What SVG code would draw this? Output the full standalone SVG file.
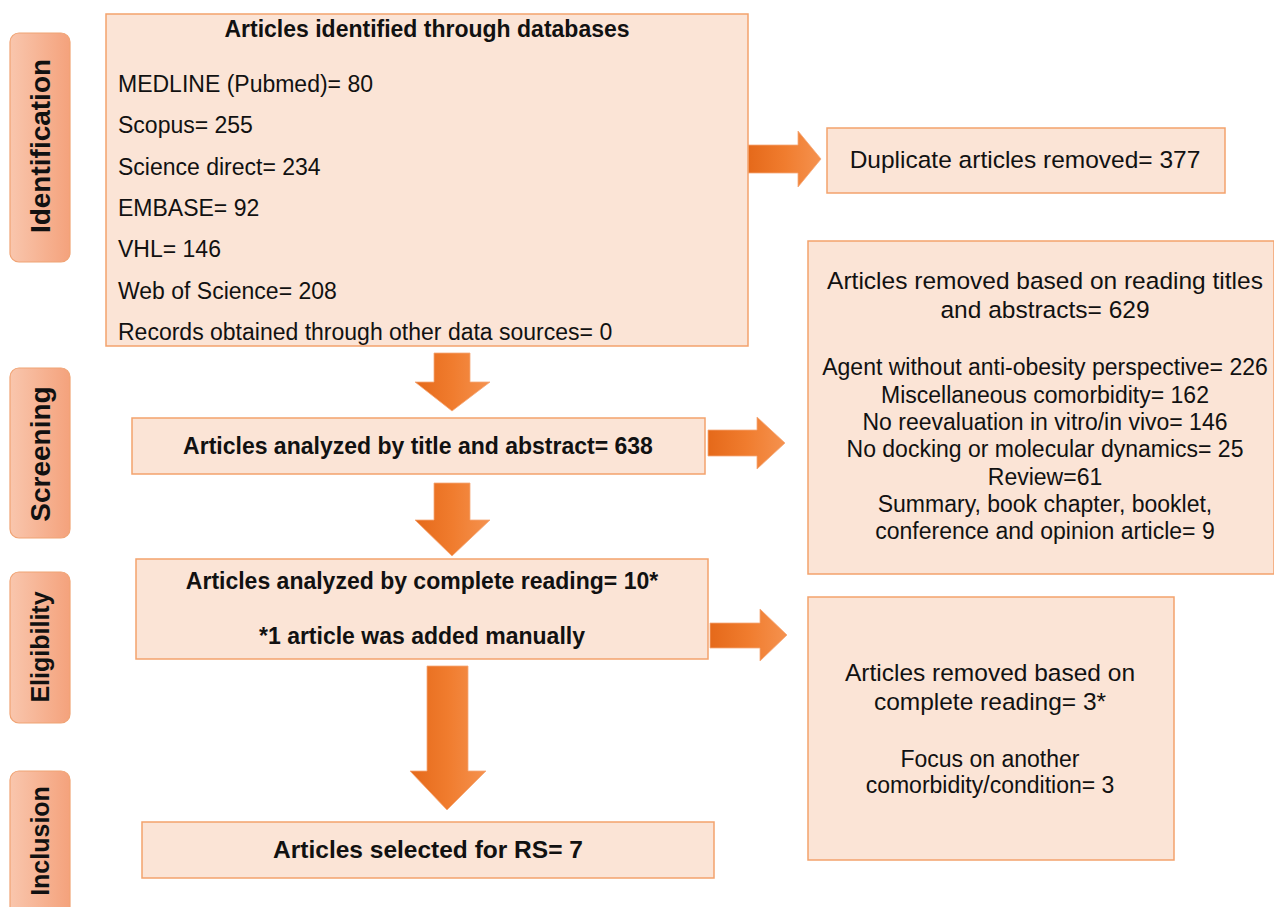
<svg xmlns="http://www.w3.org/2000/svg" width="1274" height="907" viewBox="0 0 1274 907">
<defs>
<linearGradient id="arrowGrad" x1="0" y1="0" x2="1" y2="0">
<stop offset="0" stop-color="#E5691A"/>
<stop offset="0.5" stop-color="#F07C2E"/>
<stop offset="1" stop-color="#F5924F"/>
</linearGradient>
<linearGradient id="labelGrad" x1="0" y1="0" x2="1" y2="0">
<stop offset="0" stop-color="#F9C6AD"/>
<stop offset="1" stop-color="#F4A27C"/>
</linearGradient>
<style>
.box{fill:#FBE4D6;stroke:#F3A26C;stroke-width:1.5}
.lab{fill:url(#labelGrad);stroke:#F0A374;stroke-width:1.2}
.arr{fill:url(#arrowGrad);stroke:#F5A878;stroke-width:0.8}
text{font-family:"Liberation Sans",Arial,sans-serif;fill:#111}
.b{font-weight:bold}
.lt{font-weight:bold;font-size:25px}
.lt28{font-size:28px}
.t23{font-size:23px}
.t245{font-size:24.5px}
.c{text-anchor:middle}
</style>
</defs>
<rect width="1274" height="907" fill="#fff"/>

<g id="label-identification">
<rect class="lab" x="10" y="33" width="60" height="229" rx="9"/>
<text class="lt lt28 c" transform="translate(40,146) rotate(-90)" dominant-baseline="central">Identification</text>
</g>
<g id="label-screening">
<rect class="lab" x="10" y="368" width="60" height="170" rx="9"/>
<text class="lt lt28 c" transform="translate(40,454) rotate(-90)" dominant-baseline="central">Screening</text>
</g>
<g id="label-eligibility">
<rect class="lab" x="10" y="572" width="60" height="151" rx="9"/>
<text class="lt c" transform="translate(40,647) rotate(-90)" dominant-baseline="central">Eligibility</text>
</g>
<g id="label-inclusion">
<rect class="lab" x="10" y="771" width="60" height="150" rx="9"/>
<text class="lt c" transform="translate(40,841) rotate(-90)" dominant-baseline="central">Inclusion</text>
</g>

<g id="connectors">
<path class="arr" d="M748,145 H798 V131 L821,159 L798,187 V173 H748 Z"/>
<path class="arr" d="M434,353 H470 V382 H490 L452,411 L415,382 H434 Z"/>
<path class="arr" d="M708,430 H757 V417 L785,443 L757,469 V456 H708 Z"/>
<path class="arr" d="M434,483 H470 V520 H490 L452,556 L415,520 H434 Z"/>
<path class="arr" d="M710,623 H760 V609 L787,635 L760,661 V648 H710 Z"/>
<path class="arr" d="M427,666 H468 V771 H486 L447,810 L410,771 H427 Z"/>
</g>

<g id="node-databases">
<rect class="box" x="106" y="14" width="642" height="332"/>
<text class="b t23 c" x="427" y="37">Articles identified through databases</text>
<text class="t23" x="118" y="92">MEDLINE (Pubmed)= 80</text>
<text class="t23" x="118" y="133">Scopus= 255</text>
<text class="t23" x="118" y="175">Science direct= 234</text>
<text class="t23" x="118" y="216">EMBASE= 92</text>
<text class="t23" x="118" y="257">VHL= 146</text>
<text class="t23" x="118" y="299">Web of Science= 208</text>
<text class="t23" x="118" y="340">Records obtained through other data sources= 0</text>
</g>

<g id="node-duplicates">
<rect class="box" x="827" y="128" width="398" height="65"/>
<text class="t245 c" x="1025" y="168">Duplicate articles removed= 377</text>
</g>

<g id="node-screening">
<rect class="box" x="132" y="418" width="573" height="56"/>
<text class="b t23 c" x="418" y="454">Articles analyzed by title and abstract= 638</text>
</g>

<g id="node-removed-titles">
<rect class="box" x="808" y="241" width="466" height="333"/>
<text class="t245 c" x="1045" y="289">Articles removed based on reading titles</text>
<text class="t245 c" x="1045" y="318">and abstracts= 629</text>
<text class="t23 c" x="1045" y="375">Agent without anti-obesity perspective= 226</text>
<text class="t23 c" x="1045" y="403">Miscellaneous comorbidity= 162</text>
<text class="t23 c" x="1045" y="430">No reevaluation in vitro/in vivo= 146</text>
<text class="t23 c" x="1045" y="457">No docking or molecular dynamics= 25</text>
<text class="t23 c" x="1045" y="485">Review=61</text>
<text class="t23 c" x="1045" y="512">Summary, book chapter, booklet,</text>
<text class="t23 c" x="1045" y="539">conference and opinion article= 9</text>
</g>

<g id="node-eligibility">
<rect class="box" x="136" y="559" width="572" height="100"/>
<text class="b t23 c" x="422" y="589">Articles analyzed by complete reading= 10*</text>
<text class="b t23 c" x="422" y="644">*1 article was added manually</text>
</g>

<g id="node-removed-complete">
<rect class="box" x="808" y="597" width="366" height="263"/>
<text class="t245 c" x="990" y="681">Articles removed based on</text>
<text class="t245 c" x="990" y="710">complete reading= 3*</text>
<text class="t23 c" x="990" y="767">Focus on another</text>
<text class="t23 c" x="990" y="793">comorbidity/condition= 3</text>
</g>

<g id="node-inclusion">
<rect class="box" x="142" y="822" width="572" height="56"/>
<text class="b t245 c" x="428" y="858">Articles selected for RS= 7</text>
</g>
</svg>
